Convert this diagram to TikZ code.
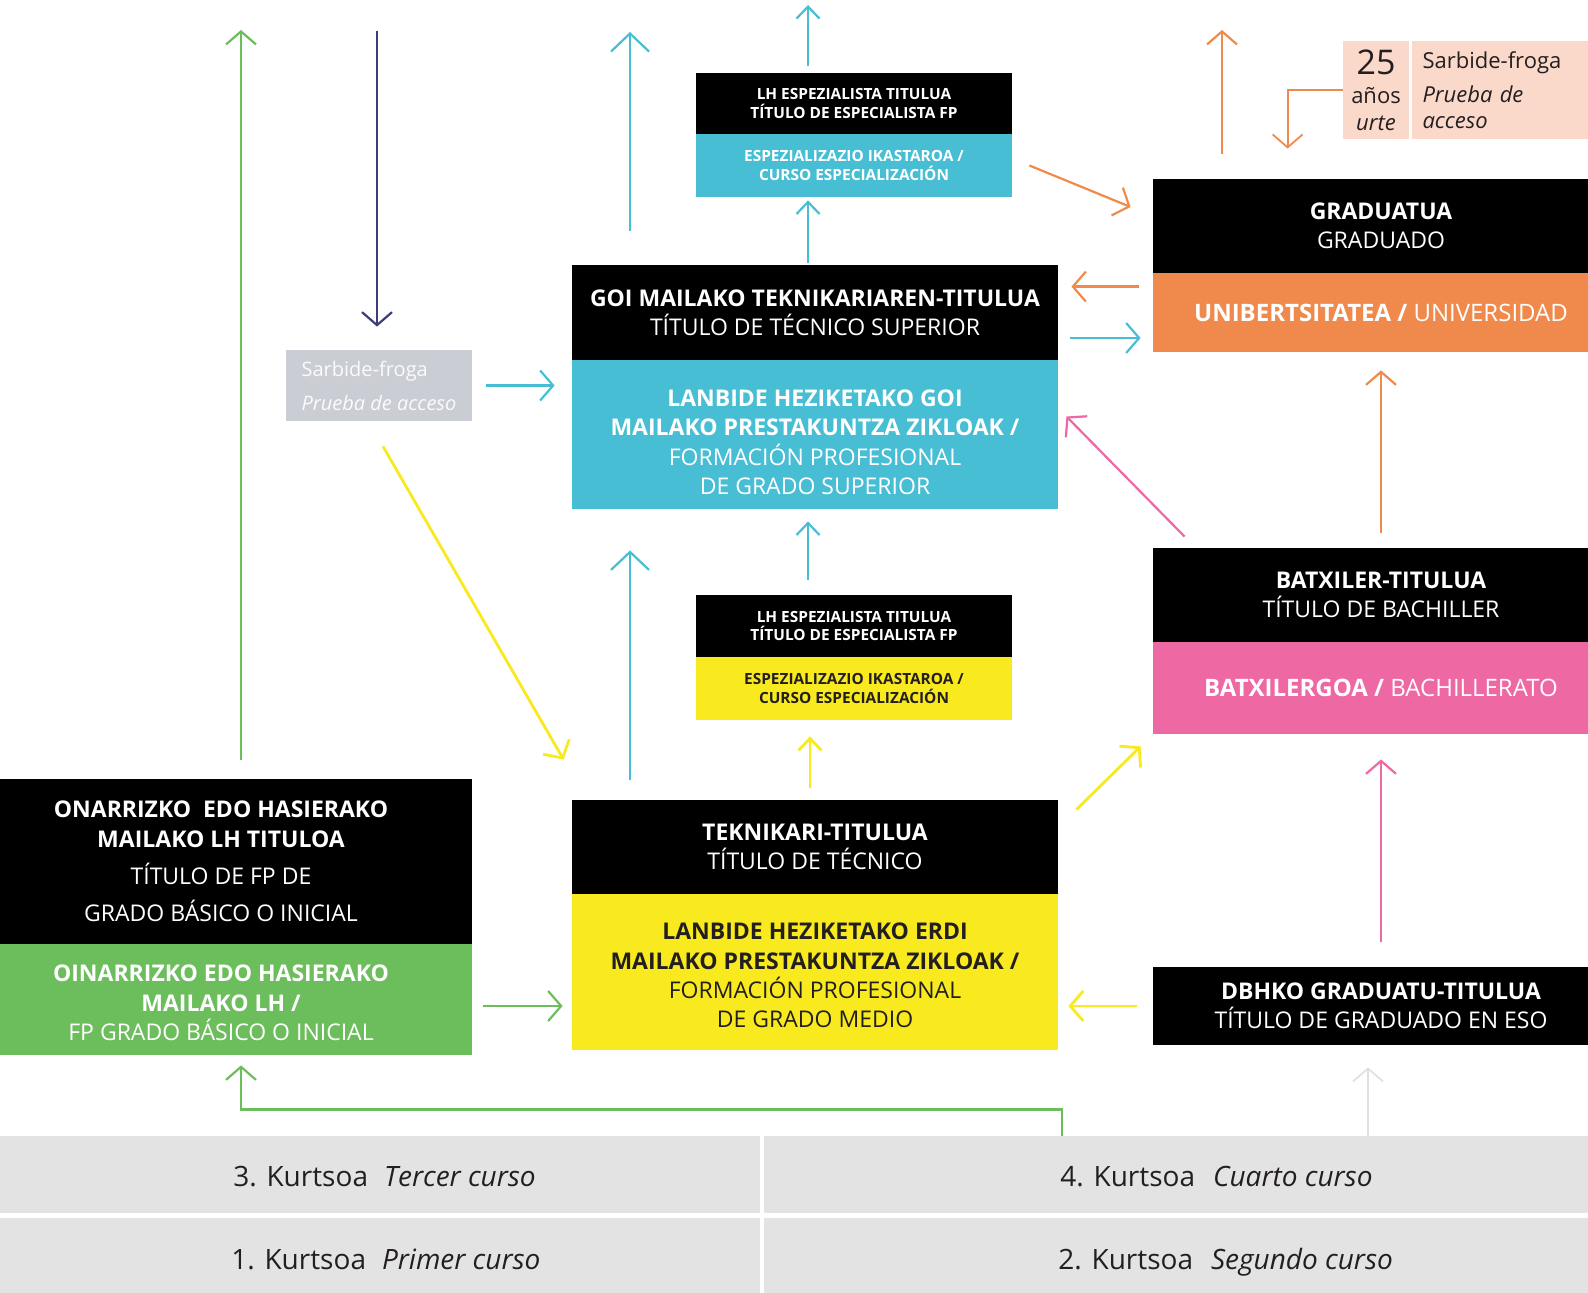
\documentclass[tikz,border=0pt]{standalone}
\usepackage{fontspec}
\setmainfont{Open Sans}
\usetikzlibrary{arrows.meta,calc,backgrounds}

\definecolor{fpcyan}{RGB}{72,190,212}
\definecolor{fpyellow}{RGB}{248,234,30}
\definecolor{fpgreen}{RGB}{108,190,92}
\definecolor{fporange}{RGB}{240,138,76}
\definecolor{fppink}{RGB}{238,104,164}
\definecolor{fppeach}{RGB}{250,216,202}
\definecolor{fpgray}{RGB}{203,205,213}
\definecolor{fpnavy}{RGB}{60,62,120}
\definecolor{fpband}{RGB}{227,227,227}
\definecolor{fpink}{RGB}{35,31,32}

\begin{document}
\begin{tikzpicture}
		[x=0.5pt,y=-0.5pt,
		 box/.style={rectangle,inner sep=0pt,align=center,font=\fontsize{11.5}{14.7}\selectfont},
		 blk/.style={box,fill=black,text=white},
		 wide/.style={minimum width=243pt},
		 side/.style={minimum width=228pt},
		 spec/.style={rectangle,inner sep=0pt,align=center,minimum width=158pt,font=\bfseries\fontsize{7.7}{9.1}\selectfont},
		 kurts/.style={anchor=base west,inner sep=0pt,text=fpink,font=\fontsize{14}{16}\selectfont},
		 arr/.style={line width=1.1pt,-{Straight Barb[length=6.5pt,width=15pt]}},
		 bigarr/.style={line width=1.1pt,-{Straight Barb[length=9pt,width=19pt]}},
		 smallarr/.style={line width=1.1pt,-{Straight Barb[length=6pt,width=11.5pt]}}]

		\useasboundingbox (0,0) rectangle (1588,1293);

		\node[spec,fill=black,text=white,minimum height=30.5pt] (spAT) at (854,103.5)
			{LH ESPEZIALISTA TITULUA\\TÍTULO DE ESPECIALISTA FP};
		\node[spec,fill=fpcyan,text=white,minimum height=31.5pt] (spAB) at (854,165.5)
			{ESPEZIALIZAZIO IKASTAROA /\\CURSO ESPECIALIZACIÓN};

		\node[blk,wide,minimum height=47.5pt] (goiT) at (815,312.5)
			{\textbf{GOI MAILAKO TEKNIKARIAREN-TITULUA}\\TÍTULO DE TÉCNICO SUPERIOR};
		\node[box,wide,fill=fpcyan,text=white,minimum height=74.5pt] (goiB) at (815,434.5)
			{\rule{0pt}{16pt}\textbf{LANBIDE HEZIKETAKO GOI}\\\textbf{MAILAKO PRESTAKUNTZA ZIKLOAK /}\\FORMACIÓN PROFESIONAL\\DE GRADO SUPERIOR};

		\node[spec,fill=black,text=white,minimum height=31pt] (spBT) at (854,626)
			{LH ESPEZIALISTA TITULUA\\TÍTULO DE ESPECIALISTA FP};
		\node[spec,fill=fpyellow,text=fpink,minimum height=31.5pt] (spBB) at (854,688.5)
			{ESPEZIALIZAZIO IKASTAROA /\\CURSO ESPECIALIZACIÓN};

		\node[blk,wide,minimum height=47pt] (tekT) at (815,847)
			{\textbf{TEKNIKARI-TITULUA}\\TÍTULO DE TÉCNICO};
		\node[box,wide,fill=fpyellow,text=fpink,minimum height=78pt] (tekB) at (815,972)
			{\rule{0pt}{12pt}\textbf{LANBIDE HEZIKETAKO ERDI}\\\textbf{MAILAKO PRESTAKUNTZA ZIKLOAK /}\\FORMACIÓN PROFESIONAL\\DE GRADO MEDIO};

		\node[blk,side,minimum height=47pt] (gradT) at (1381,226)
			{\textbf{GRADUATUA}\\GRADUADO};
		\node[box,side,fill=fporange,text=white,minimum height=39.5pt,font=\fontsize{12}{14.7}\selectfont] (gradB) at (1381,312.5)
			{\textbf{UNIBERTSITATEA /} UNIVERSIDAD};

		\node[blk,side,minimum height=47pt] (batT) at (1381,595)
			{\textbf{BATXILER-TITULUA}\\TÍTULO DE BACHILLER};
		\node[box,side,fill=fppink,text=white,minimum height=46pt,font=\fontsize{12}{14.7}\selectfont] (batB) at (1381,688)
			{\textbf{BATXILERGOA /} BACHILLERATO};

		\node[blk,side,minimum height=39pt] (dbT) at (1381,1006)
			{\textbf{DBHKO GRADUATU-TITULUA}\\TÍTULO DE GRADUADO EN ESO};

		\node[blk,minimum width=251pt,minimum height=82.5pt] (onaT) at (221,861.5)
			{\textbf{ONARRIZKO\ \ EDO HASIERAKO}\\\textbf{MAILAKO LH TITULOA}\\[4pt]TÍTULO DE FP DE\\[4pt]GRADO BÁSICO O INICIAL};
		\node[box,minimum width=251pt,fill=fpgreen,text=white,minimum height=55.5pt] (onaB) at (221,999.5)
			{\rule{0pt}{12pt}\textbf{OINARRIZKO EDO HASIERAKO}\\\textbf{MAILAKO LH /}\\FP GRADO BÁSICO O INICIAL};

		\node[box,align=left,fill=fpgray,text=white!92!fpgray,minimum width=93pt,minimum height=35.5pt,font=\fontsize{10}{12}\selectfont] (sarb) at (379,385.5)
			{Sarbide-froga\\[5pt]\textit{Prueba de acceso}};

		\node[box,fill=fppeach,text=fpink,minimum width=33pt,minimum height=49pt,font=\fontsize{11}{13.5}\selectfont] (anosL) at (1376,90)
			{{\fontsize{17}{17}\selectfont 25}\\[1pt]años\\\textit{urte}};
		\node[box,align=left,fill=fppeach,text=fpink,text width=83pt,inner xsep=5.5pt,minimum height=49pt,font=\fontsize{11}{13}\selectfont] (anosR) at (1505.5,90)
			{Sarbide-froga\\[4pt]\textit{Prueba de}\\\textit{acceso}};

		\node[kurts] (k3) at (233,1186) {3. Kurtsoa\hspace{8pt}\textit{Tercer curso}};
		\node[kurts] (k4) at (1060,1186) {4. Kurtsoa\hspace{9pt}\textit{Cuarto curso}};
		\node[kurts] (k1) at (231,1269) {1. Kurtsoa\hspace{8pt}\textit{Primer curso}};
		\node[kurts] (k2) at (1058,1269) {2. Kurtsoa\hspace{9pt}\textit{Segundo curso}};

		\coordinate (gUp) at (241,30);
		\coordinate (nTop) at (377,31);
		\coordinate (cUp) at (630,32);
		\coordinate (sUp) at (808,5);
		\coordinate (oUp) at (1222,30);
		\coordinate (gBr) at (1062,1136);
		\coordinate (eso) at (1368,1136);

		\draw[arr,fpgreen,shorten <=9.5pt] (onaT.north -| gUp) -- (gUp);
		\draw[arr,fpnavy,shorten >=11.5pt] (nTop) -- (nTop |- sarb.north);
		\draw[arr,fpcyan,shorten <=7pt,shorten >=8.5pt] (sarb.east) -- (sarb.east -| goiB.west);
		\draw[arr,fpyellow,line width=1.4pt] ($(sarb.south)+(4,25)$) -- ($(tekT.north west)+(-8,-40)$);
		\draw[bigarr,fpcyan,shorten <=17pt] (goiT.north -| cUp) -- (cUp);
		\draw[smallarr,fpcyan,shorten <=3.5pt] (spAT.north -| sUp) -- (sUp);
		\draw[smallarr,fpcyan,shorten <=1pt,shorten >=1.5pt] (goiT.north -| sUp) -- (spAB.south -| sUp);
		\draw[arr,fporange] ($(spAB.east)+(17,0)$) -- ($(gradT.west)+(-22,-19)$);
		\draw[arr,fporange] ($(gradB.north west)+(-14,14)$) -- ($(goiT.east |- gradB.north west)+(13,14)$);
		\draw[arr,fpcyan] ($(goiT.east)+(12,25.5)$) -- ($(gradB.west |- goiT.east)+(-12,25.5)$);
		\draw[arr,fporange,shorten <=12.5pt] (gradT.north -| oUp) -- (oUp);
		\draw[arr,fporange,line width=0.9pt,shorten >=15pt] (anosL.west) -| ($(gradT.north west)+(135,0)$);
		\draw[arr,fporange,shorten <=7.5pt,shorten >=9pt] (batT.north) -- (gradB.south);
		\draw[arr,fppink] ($(batT.north west)+(32,-11)$) -- ($(goiB.east)+(8,-18)$);
		\draw[bigarr,fpcyan,shorten <=10pt,shorten >=20.5pt] (tekT.north -| cUp) -- (goiB.south -| cUp);
		\draw[smallarr,fpcyan,shorten <=7.5pt,shorten >=6pt] (spBT.north -| sUp) -- (goiB.south -| sUp);
		\draw[smallarr,fpyellow,line width=1.4pt,shorten <=6pt,shorten >=8pt] ($(tekT.north)+(-5,0)$) -- ($(spBB.south -| tekT.north)+(-5,0)$);
		\draw[arr,fpyellow,line width=1.4pt] ($(tekT.north east)+(18,10)$) -- ($(batB.south west)+(-12,12)$);
		\draw[arr,fppink,shorten <=12.5pt,shorten >=12.5pt] (dbT.north) -- (batB.south);
		\draw[arr,fpyellow,line width=1.4pt,shorten <=8pt,shorten >=5pt] (dbT.west) -- (dbT.west -| tekB.east);
		\draw[arr,fpgreen,shorten <=5.5pt,shorten >=4.5pt] ($(onaB.east)+(0,6.5)$) -- ($(tekB.west |- onaB.east)+(0,6.5)$);
		\draw[arr,fpgreen] (gBr) |- ($(onaB.south)+(20,54)$) -- ($(onaB.south)+(20,10)$);
		\draw[arr,black!12,line width=0.8pt,shorten >=11pt] (eso) -- (eso |- dbT.south);

		\begin{pgfonlayer}{background}
			\fill[white] (0,0) rectangle (1588,1293);
			\fill[fpband] (0,1136) rectangle (760,1213);
			\fill[fpband] (764,1136) rectangle (1588,1213);
			\fill[fpband] (0,1218) rectangle (760,1293);
			\fill[fpband] (764,1218) rectangle (1588,1293);
		\end{pgfonlayer}

	\end{tikzpicture}
\end{document}
